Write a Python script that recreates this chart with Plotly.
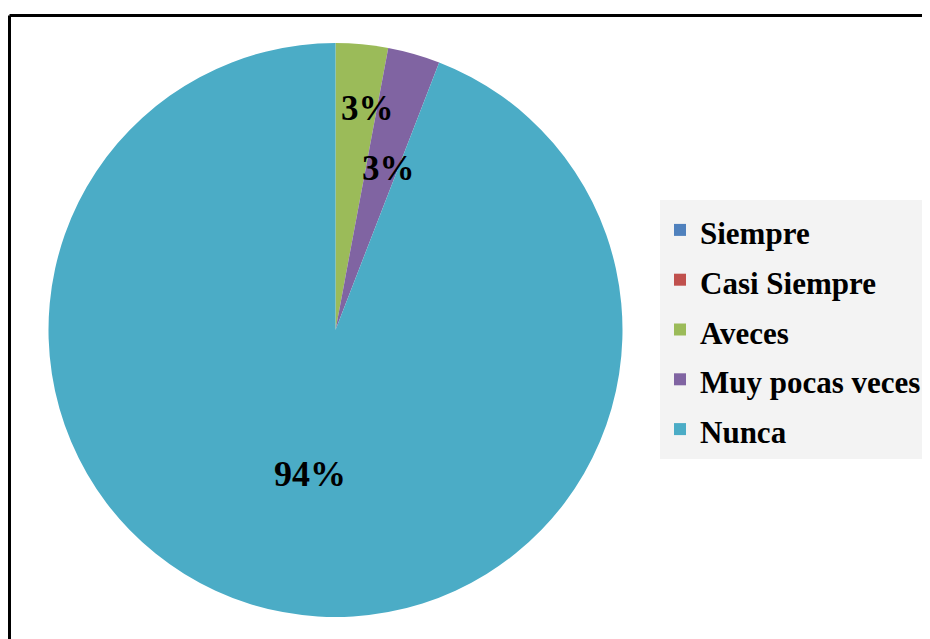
import math
import plotly.graph_objects as go

categories = ["Siempre", "Casi Siempre", "Aveces", "Muy pocas veces", "Nunca"]
values = [0, 0, 1, 1, 32]
colors = ["#4F81BD", "#C0504D", "#9BBB59", "#8064A2", "#4BACC6"]
# label placement (fraction of radius, extra angle in degrees) for non-zero slices
label_radius = [0, 0, 0.78, 0.59, 0.51]
label_angle_shift = [0, 0, 3.0, 2.4, -0.6]

OFF = 8  # page body margin offset
W, H = 930 - OFF, 639 - OFF
FONT = "Liberation Serif, Times New Roman, serif"

def fx(px):
    return (px - OFF) / W

def fy(py):
    return 1 - (py - OFF) / H

px0, px1 = 48, 623
py0, py1 = 43, 617
dom_x = [fx(px0), fx(px1)]
dom_y = [fy(py1), fy(py0)]

legend_labels = [f"<span style='font-size:31px'>{c}</span>" for c in categories]

fig = go.Figure(go.Pie(
    labels=legend_labels,
    values=values,
    marker=dict(colors=colors, line=dict(width=0)),
    sort=False,
    direction="clockwise",
    rotation=0,
    textinfo="none",
    hoverinfo="label+percent",
    domain=dict(x=dom_x, y=dom_y),
    showlegend=True,
))

# percentage labels computed from the data
total = sum(values)
cx = (px0 + px1) / 2
cy = (py0 + py1) / 2
r = (px1 - px0) / 2
cum = 0
for v, f, shift in zip(values, label_radius, label_angle_shift):
    start = cum
    cum += v
    if v <= 0:
        continue
    mid = (start + v / 2) / total * 360 + shift
    ang = math.radians(mid)
    x = cx + r * f * math.sin(ang)
    y = cy - r * f * math.cos(ang)
    fig.add_annotation(
        x=fx(x), y=fy(y), xref="paper", yref="paper",
        xanchor="center", yanchor="middle",
        text=f"{round(v / total * 100)}%", showarrow=False,
        font=dict(family=FONT, size=36 if v / total > 0.5 else 35, color="black", weight="bold"),
    )

# chart-area border (top and left edges visible)
fig.add_shape(type="line", xref="paper", yref="paper",
              x0=fx(9.5), x1=1.05, y0=fy(15.5), y1=fy(15.5),
              line=dict(color="black", width=3))
fig.add_shape(type="line", xref="paper", yref="paper",
              x0=fx(9.5), x1=fx(9.5), y0=-0.05, y1=fy(15.5),
              line=dict(color="black", width=3))

fig.update_layout(
    width=W, height=H,
    margin=dict(l=0, r=0, t=0, b=0),
    paper_bgcolor="white",
    plot_bgcolor="white",
    font=dict(family=FONT, color="black"),
    legend=dict(
        x=fx(660), y=fy(200), xanchor="left", yanchor="top",
        bgcolor="#f3f3f3",
        font=dict(family=FONT, size=36, color="black", weight="bold"),
        itemwidth=30,
        traceorder="normal",
    ),
)

fig.write_html("out.html")
